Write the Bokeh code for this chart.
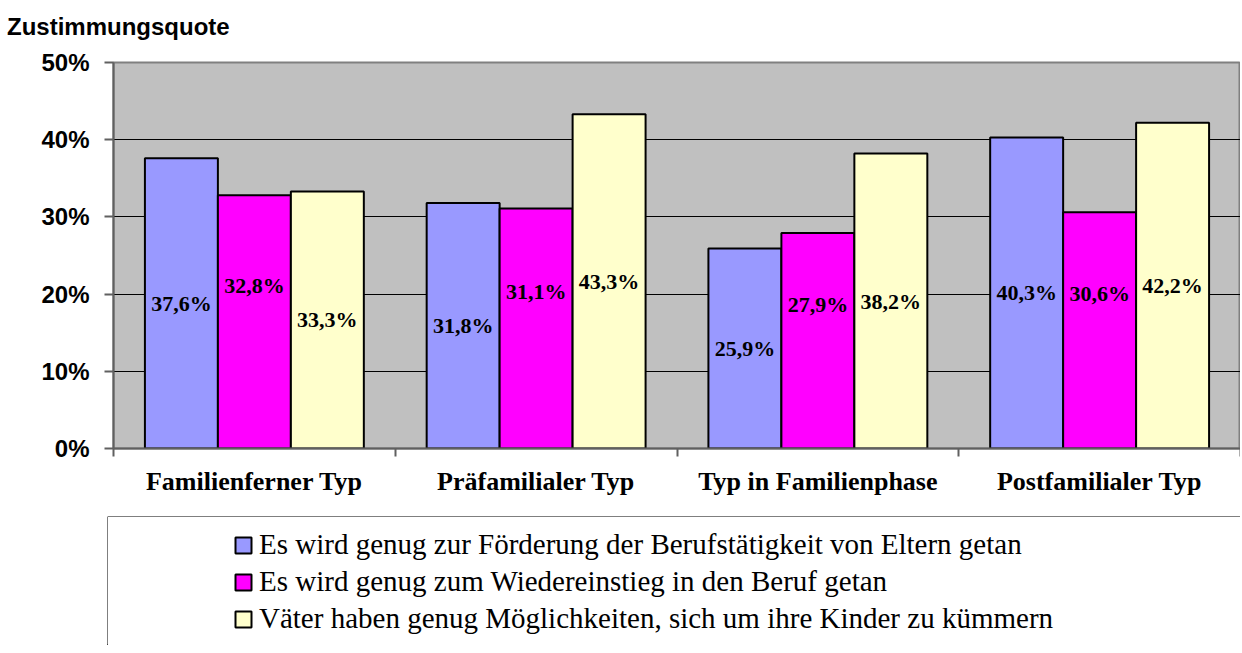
import numpy as np
from bokeh.plotting import figure
from bokeh.models import (Range1d, FixedTicker, Div, Legend, LegendItem,
                          Span, ColumnDataSource)
from bokeh.layouts import column
from bokeh.core.properties import value
from bokeh.embed import file_html
from bokeh.resources import INLINE

# ---------------- data ----------------
categories = ["Familienferner Typ", "Präfamilialer Typ",
              "Typ in Familienphase", "Postfamilialer Typ"]
series_names = [
    "Es wird genug zur Förderung der Berufstätigkeit von Eltern getan",
    "Es wird genug zum Wiedereinstieg in den Beruf getan",
    "Väter haben genug Möglichkeiten, sich um ihre Kinder zu kümmern",
]
foerderung = [37.6, 31.8, 25.9, 40.3]
wiedereinstieg = [32.8, 31.1, 27.9, 30.6]
vaeter = [33.3, 43.3, 38.2, 42.2]
y_ticks = [0, 10, 20, 30, 40, 50]
colors = ["#9999FF", "#FF00FF", "#FFFFCC"]
title_text = "Zustimmungsquote"

series = [foerderung, wiedereinstieg, vaeter]
n_cat = len(categories)
bar_w = 0.259
offsets = [-bar_w, 0.0, bar_w]
label_shift = [0.0, 4.75, 0.0]

W = 1240

# ---------------- title ----------------
title_div = Div(text=title_text, width=W, height=40, margin=0,
                styles={"font-family": "Liberation Sans, Arial, sans-serif",
                        "font-size": "24px", "font-weight": "bold",
                        "color": "black", "line-height": "28px",
                        "padding-left": "7px", "padding-top": "13px",
                        "box-sizing": "border-box"})

# ---------------- main chart ----------------
p = figure(width=W, height=475, output_backend="svg", toolbar_location=None,
           x_range=Range1d(0, n_cat), y_range=Range1d(0, 50),
           min_border_left=113, min_border_right=0, min_border_top=22,
           min_border_bottom=67)
p.frame_align = False
p.background_fill_color = "#C0C0C0"
p.border_fill_color = "white"
p.outline_line_color = "#808080"
p.outline_line_width = 2

centers = np.arange(n_cat) + 0.5
for i, (vals, col) in enumerate(zip(series, colors)):
    xs = centers + offsets[i]
    vals_arr = np.array(vals)
    src = ColumnDataSource(dict(
        x=xs, top=vals_arr,
        ly=vals_arr / 2 + label_shift[i],
        lab=[f"{v:.1f}".replace(".", ",") + "%" for v in vals]))
    p.vbar(x="x", top="top", width=bar_w, bottom=0, source=src,
           fill_color=col, line_color="black", line_width=2)
    p.text(x="x", y="ly", text="lab", source=src, text_align="center",
           text_baseline="middle", text_font=value("Liberation Serif"),
           text_font_size="22px", text_font_style="bold", text_color="black")

# y axis
p.yaxis.ticker = FixedTicker(ticks=y_ticks)
p.yaxis.major_label_overrides = {t: f"{t}%" for t in y_ticks}
p.yaxis.major_label_text_font = "Liberation Sans"
p.yaxis.major_label_text_font_size = "24px"
p.yaxis.major_label_text_font_style = "bold"
p.yaxis.major_label_text_color = "black"
p.yaxis.major_tick_out = 9
p.yaxis.major_tick_in = 0
p.yaxis.minor_tick_out = 0
p.yaxis.minor_tick_in = 0
p.yaxis.major_label_standoff = 15
p.yaxis.axis_line_color = "#606060"
p.yaxis.axis_line_width = 2
p.yaxis.major_tick_line_color = "#606060"
p.yaxis.major_tick_line_width = 2

# x axis: labels at centres, ticks at category boundaries
p.xaxis.ticker = FixedTicker(ticks=list(centers),
                             minor_ticks=list(range(n_cat + 1)))
p.xaxis.major_label_overrides = {float(c): name for c, name in zip(centers, categories)}
p.xaxis.major_label_text_font = "Liberation Serif"
p.xaxis.major_label_text_font_size = "26px"
p.xaxis.major_label_text_font_style = "bold"
p.xaxis.major_label_text_color = "black"
p.xaxis.major_tick_out = 0
p.xaxis.major_tick_in = 0
p.xaxis.minor_tick_out = 8
p.xaxis.minor_tick_in = 0
p.xaxis.minor_tick_line_color = "#606060"
p.xaxis.minor_tick_line_width = 2
p.xaxis.major_label_standoff = 10
p.xaxis.axis_line_color = "#606060"
p.xaxis.axis_line_width = 2

p.xgrid.visible = False
p.ygrid.ticker = FixedTicker(ticks=y_ticks[1:-1])
p.ygrid.grid_line_color = "black"
p.ygrid.grid_line_width = 1

# ---------------- legend panel ----------------
lg = figure(width=W, height=130, output_backend="svg", toolbar_location=None,
            x_range=Range1d(0, 1), y_range=Range1d(0, 1),
            min_border_left=107, min_border_right=0, min_border_top=1,
            min_border_bottom=0, x_axis_location=None, y_axis_location=None)
lg.frame_align = False
lg.grid.visible = False
lg.outline_line_color = None
lg.background_fill_color = "white"
lg.add_layout(Span(location=1, dimension="width", line_color="#000000", line_width=1))
lg.add_layout(Span(location=0, dimension="height", line_color="#000000", line_width=1))

items = []
for name, col in zip(series_names, colors):
    r = lg.vbar(x=[-5.0], top=[-5.0], bottom=[-6.0], width=0.1, fill_color=col,
                line_color="black", line_width=2)
    items.append(LegendItem(label=name, renderers=[r]))

legend = Legend(items=items, location=(126, 10), orientation="vertical",
                label_text_font="Liberation Serif", label_text_font_size="29px",
                label_text_color="black", glyph_width=20, glyph_height=20,
                label_standoff=6, spacing=4, padding=0, margin=0,
                border_line_color=None, background_fill_alpha=0)
lg.add_layout(legend)

layout = column(title_div, p, lg, spacing=0)
open("out.html", "w").write(file_html(layout, INLINE))
